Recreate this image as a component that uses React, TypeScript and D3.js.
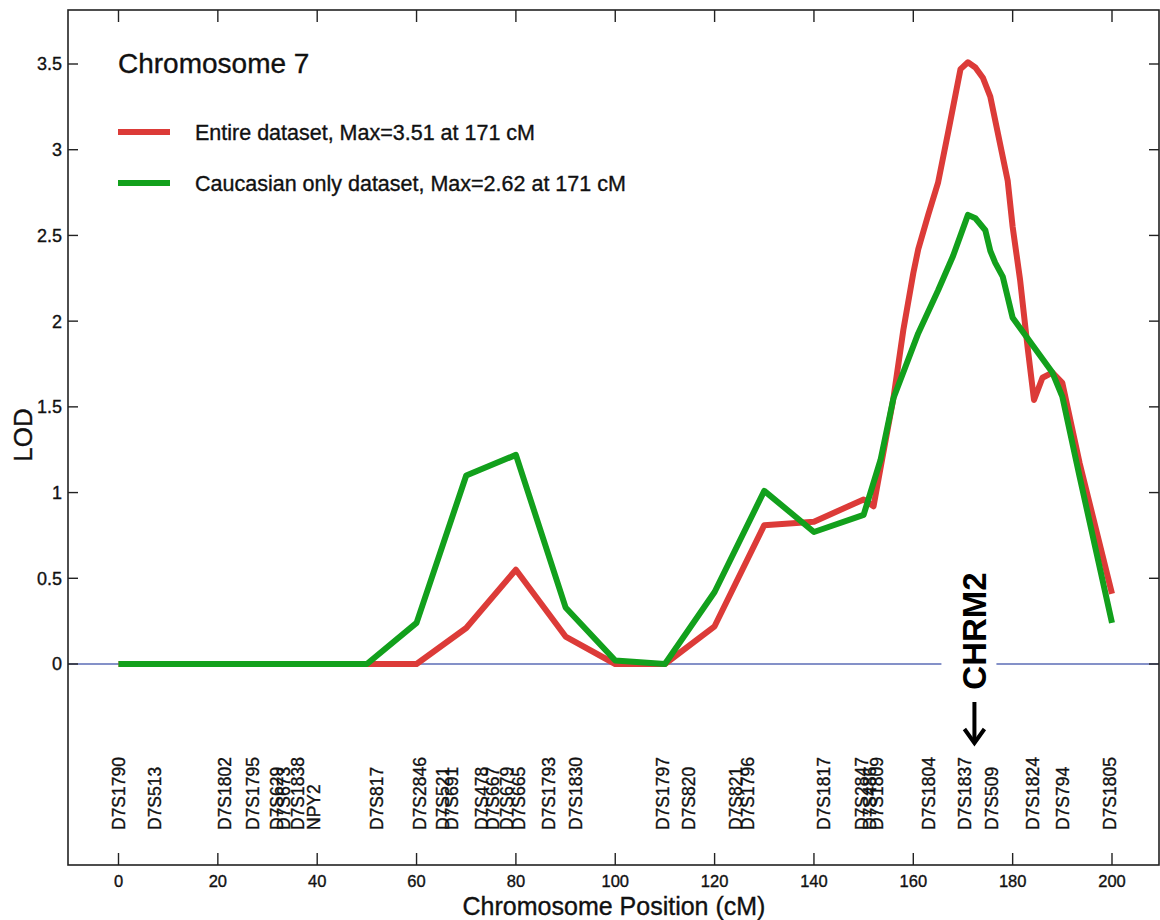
import React, { useEffect } from 'react';
import * as d3 from 'd3';

// LOD score along chromosome 7
const entirePos = [0, 10, 20, 30, 40, 50, 60, 70, 80, 90, 100, 110, 120, 130, 140, 150, 152, 153.7, 156, 158, 160, 161, 163, 165, 167, 169.5, 171, 172.5, 174, 175.5, 177, 179, 180, 181.5, 183, 184.3, 186, 188, 190, 193.5, 200];
const entireLod = [0, 0, 0, 0, 0, 0, 0, 0.21, 0.55, 0.16, 0, 0, 0.22, 0.81, 0.83, 0.96, 0.92, 1.19, 1.55, 1.95, 2.28, 2.42, 2.62, 2.81, 3.1, 3.47, 3.51, 3.48, 3.42, 3.31, 3.1, 2.82, 2.55, 2.24, 1.85, 1.54, 1.67, 1.7, 1.64, 1.17, 0.41];

const caucPos = [0, 10, 20, 30, 40, 50, 60, 70, 80, 90, 100, 110, 120, 130, 140, 150, 153.4, 156, 161, 165, 168, 171, 172.5, 174.5, 175.5, 176.5, 178, 180, 188, 190, 193.5, 200];
const caucLod = [0, 0, 0, 0, 0, 0, 0.24, 1.1, 1.22, 0.33, 0.02, 0, 0.42, 1.01, 0.77, 0.87, 1.19, 1.55, 1.93, 2.18, 2.38, 2.62, 2.6, 2.53, 2.41, 2.34, 2.26, 2.02, 1.7, 1.56, 1.09, 0.24];

const markerNames = ['D7S1790', 'D7S513', 'D7S1802', 'D7S1795', 'D7S629', 'D7S673', 'D7S1838', 'NPY2', 'D7S817', 'D7S2846', 'D7S521', 'D7S691', 'D7S478', 'D7S667', 'D7S679', 'D7S665', 'D7S1793', 'D7S1830', 'D7S1797', 'D7S820', 'D7S821', 'D7S1796', 'D7S1817', 'D7S2847', 'D7S486', 'D7S1809', 'D7S1804', 'D7S1837', 'D7S509', 'D7S1824', 'D7S794', 'D7S1805'];
const markerPos = [0, 7.3, 21.4, 27, 31.8, 33.2, 36, 39.2, 52, 60.7, 65.3, 67, 73.2, 75.4, 78.2, 80.6, 86.5, 92, 109.5, 114.7, 124.2, 126.6, 141.9, 149.7, 151.2, 152.7, 163, 170.4, 175.8, 184, 190, 199.6];

const xTicks = [0, 20, 40, 60, 80, 100, 120, 140, 160, 180, 200];
const yTicks = [0, 0.5, 1, 1.5, 2, 2.5, 3, 3.5];

const legendLabels = ['Entire dataset, Max=3.51 at 171 cM', 'Caucasian only dataset, Max=2.62 at 171 cM'];
const chrmPos = 171.5;

const RED = '#dc3b38';
const GREEN = '#12a01c';
const FONT = '"Liberation Sans", Arial, Helvetica, sans-serif';

export default function App() {
  useEffect(() => {
    document.body.style.margin = '0';
  }, []);

  const left = 68, top = 10, right = 1159, bottom = 865;
  const x = d3.scaleLinear().domain([0, 200]).range([118.5, 1112]);
  const y = d3.scaleLinear().domain([0, 3.5]).range([664, 64]);

  const line = d3.line<[number, number]>()
    .x(d => x(d[0]))
    .y(d => y(d[1]));

  const entire = entirePos.map((p, i) => [p, entireLod[i]] as [number, number]);
  const cauc = caucPos.map((p, i) => [p, caucLod[i]] as [number, number]);

  const cx = x(chrmPos);
  const gapL = cx - 29, gapR = cx + 26;
  // slight outline so the text is as heavy as in the scan
  const ink = { fill: '#111', stroke: '#111', strokeWidth: 0.35 };

  return (
    <svg width={1160} height={920} style={{ display: 'block', background: '#fff' }} fontFamily={FONT}>
      {/* zero line with a gap for the CHRM2 label */}
      <line x1={left} x2={gapL} y1={y(0)} y2={y(0)} stroke="#5b6db6" strokeWidth={1.6} />
      <line x1={gapR} x2={right} y1={y(0)} y2={y(0)} stroke="#5b6db6" strokeWidth={1.6} />

      <path d={line(entire) || ''} fill="none" stroke={RED} strokeWidth={6} strokeLinejoin="round" />
      <path d={line(cauc) || ''} fill="none" stroke={GREEN} strokeWidth={6} strokeLinejoin="round" />

      {/* frame */}
      <rect x={left} y={top} width={right - left} height={bottom - top} fill="none" stroke="#222" strokeWidth={1.6} />

      {xTicks.map(t => (
        <g key={'x' + t}>
          <line x1={x(t)} x2={x(t)} y1={top} y2={top + 12} stroke="#222" strokeWidth={1.4} />
          <line x1={x(t)} x2={x(t)} y1={bottom} y2={bottom - 12} stroke="#222" strokeWidth={1.4} />
          <text x={x(t)} y={887} fontSize={16.5} textAnchor="middle" {...ink}>{t}</text>
        </g>
      ))}
      {yTicks.map(t => (
        <g key={'y' + t}>
          <line x1={left} x2={left + 10} y1={y(t)} y2={y(t)} stroke="#222" strokeWidth={1.4} />
          <line x1={right} x2={right - 10} y1={y(t)} y2={y(t)} stroke="#222" strokeWidth={1.4} />
          <text x={62} y={y(t)} dy="0.36em" fontSize={18} textAnchor="end" {...ink}>{t}</text>
        </g>
      ))}

      <text x={614} y={915} fontSize={25} textAnchor="middle" {...ink}>Chromosome Position (cM)</text>
      <text transform="translate(32,435) rotate(-90)" fontSize={26} textAnchor="middle" {...ink}>LOD</text>

      {/* title and legend */}
      <text x={118} y={73} fontSize={28} {...ink}>Chromosome 7</text>
      {legendLabels.map((lab, i) => (
        <g key={lab}>
          <line x1={118} x2={170} y1={132 + i * 51} y2={132 + i * 51} stroke={i === 0 ? RED : GREEN} strokeWidth={6} />
          <text x={195} y={140 + i * 51} fontSize={21.5} {...ink}>{lab}</text>
        </g>
      ))}

      {/* marker names */}
      {markerNames.map((m, i) => (
        <text key={m} transform={`translate(${x(markerPos[i])},830) rotate(-90)`} dy="0.36em" fontSize={17.5} {...ink}>{m}</text>
      ))}

      {/* CHRM2 */}
      <text transform={`translate(${cx + 16},631) rotate(-90)`} fontSize={33} fontWeight="bold" textAnchor="middle" fill="#000">CHRM2</text>
      <line x1={cx + 4} x2={cx + 4} y1={702} y2={742} stroke="#000" strokeWidth={4} />
      <path d={`M${cx - 6},729 L${cx + 4},743 L${cx + 14},729`} fill="none" stroke="#000" strokeWidth={4} strokeLinejoin="miter" />
    </svg>
  );
}
